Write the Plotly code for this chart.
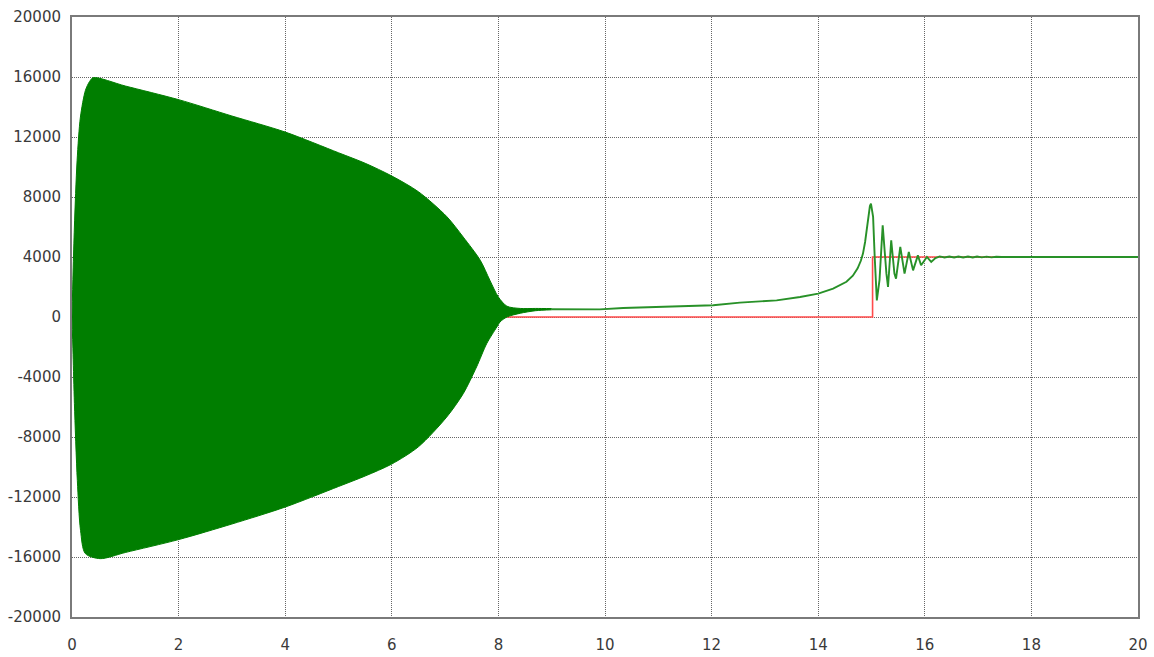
import plotly.graph_objects as go

# Envelope of the fast oscillation (upper and lower edges of the band)
upper_t = [0, 0.02, 0.045, 0.096, 0.158, 0.252, 0.33, 0.40, 1.0, 2.0, 3.0, 4.0,
           5.0, 5.5, 6.0, 6.5, 7.03, 7.34, 7.66, 7.84, 8.0, 8.16, 8.41,
           8.7, 9.0]
upper_v = [0, 3000, 6000, 10450, 13330, 15110, 15700, 15960, 15400, 14490, 13400,
           12330, 10950, 10250, 9400, 8350, 6700, 5330, 3780, 2450, 1330,
           720, 570, 570, 560]

lower_t = [0, 0.02, 0.045, 0.10, 0.16, 0.25, 0.53, 1.0, 2.0, 3.0, 4.0, 5.0,
           5.5, 6.0, 6.5, 7.03, 7.34, 7.59, 7.78, 7.97, 8.03, 8.16, 8.41,
           8.7, 9.0]
lower_v = [0, -2500, -5760, -10890, -14220, -15770, -16110, -15700, -14840,
           -13800, -12670, -11300, -10600, -9800, -8650, -6670, -5110, -3330,
           -1780, -670, -330, 0, 250, 420, 480]

# Response after the oscillation dies out
tail_t = [9.0, 9.9, 10.34, 11.31, 12.03, 12.53, 13.22, 13.66, 14.0, 14.28,
          14.53, 14.65, 14.74, 14.80, 14.84, 14.88, 14.91, 14.94, 14.97, 14.99,
          15.03, 15.06, 15.10, 15.15,
          15.21, 15.28, 15.31, 15.37, 15.43, 15.46, 15.54, 15.62, 15.70, 15.78,
          15.87, 15.93, 16.04, 16.12, 16.20, 16.28, 16.37, 16.46, 16.55, 16.63,
          16.72, 16.81, 16.90, 16.98, 17.07, 17.16, 17.25, 17.34, 17.44, 20.0]
tail_v = [520, 510, 600, 710, 780, 960, 1110, 1330, 1560, 1890,
          2350, 2750, 3250, 3750, 4230, 5000, 5900, 6800, 7400, 7560,
          6670, 4000, 1110, 2450,
          6110, 2890, 2000, 5110, 2890, 2560, 4670, 2890, 4330, 3110,
          4110, 3450, 4000, 3670, 3930, 4040, 3965, 4035, 3965, 4035,
          3970, 4030, 3970, 4030, 3975, 4025, 3975, 4020, 4000, 4000]

# Reference step signal
ref_t = [0, 15.02, 15.02, 20]
ref_v = [0, 0, 4000, 4000]

x_ticks = [0, 2, 4, 6, 8, 10, 12, 14, 16, 18, 20]
x_labels = ["0", "2", "4", "6", "8", "10", "12", "14", "16", "18", "20"]
y_ticks = [-20000, -16000, -12000, -8000, -4000, 0, 4000, 8000, 12000, 16000, 20000]
y_labels = ["-20000", "-16000", "-12000", "-8000", "-4000", "0", "4000", "8000",
            "12000", "16000", "20000"]

GREEN = "rgb(0,126,0)"

fig = go.Figure()

fig.add_trace(go.Scatter(x=ref_t, y=ref_v, mode="lines",
                         line=dict(color="rgb(255,75,75)", width=1.6),
                         hoverinfo="skip"))

# Oscillation band: lower edge, then upper edge filled down to it
fig.add_trace(go.Scatter(x=lower_t, y=lower_v, mode="lines",
                         line=dict(color=GREEN, width=1, shape="spline",
                                   smoothing=0.8),
                         hoverinfo="skip"))
fig.add_trace(go.Scatter(x=upper_t, y=upper_v, mode="lines", fill="tonexty",
                         fillcolor=GREEN,
                         line=dict(color=GREEN, width=1, shape="spline",
                                   smoothing=0.8),
                         hoverinfo="skip"))

fig.add_trace(go.Scatter(x=tail_t, y=tail_v, mode="lines",
                         line=dict(color="rgb(40,145,40)", width=1.9),
                         hoverinfo="skip"))

axis_font = dict(family="DejaVu Sans", size=15, color="#3a3a3a")
grid_common = dict(showgrid=True, gridcolor="#666666", griddash="1px,1px",
                   gridwidth=1, showline=True, mirror=True,
                   linecolor="#7a7a7a", linewidth=2, zeroline=False,
                   tickfont=axis_font, automargin=False,
                   tickcolor="rgba(0,0,0,0)", ticks="outside")

fig.update_xaxes(range=[0, 20], tickvals=x_ticks, ticktext=x_labels,
                 ticklen=13, **grid_common)
fig.update_yaxes(range=[-20000, 20000], tickvals=y_ticks, ticktext=y_labels,
                 ticklen=6, **grid_common)

fig.update_layout(width=1154, height=657, showlegend=False,
                  paper_bgcolor="white", plot_bgcolor="white",
                  margin=dict(l=72, r=16, t=17, b=40))

fig.write_html("out.html")
